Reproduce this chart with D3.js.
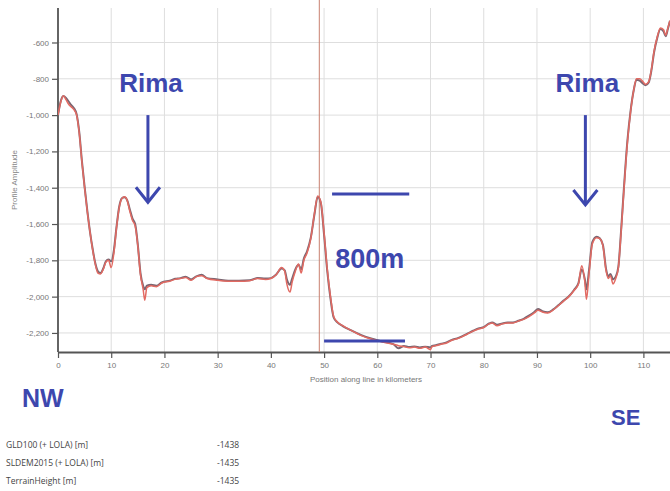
<!DOCTYPE html>
<html>
<head>
<meta charset="utf-8">
<script src="https://cdn.jsdelivr.net/npm/d3@7"></script>
<style>
  body { margin: 0; background: #fff; }
  svg { display: block; }
</style>
</head>
<body>
<div id="viz"></div>
<script>
"use strict";
(function(){
    // profile samples, km along the line
    const km = [0, 0.5, 1.0, 1.5, 2.0, 2.5, 3.0, 3.5, 4.0, 4.5, 5.0, 5.5, 6.0, 6.5, 7.0, 7.5, 8.0, 8.5, 9.0, 9.5,
        10.0, 10.5, 11.0, 11.5, 12.0, 12.5, 13.0, 13.5, 14.0, 14.5, 15.0, 15.5, 16.0, 16.3, 16.7, 17.5, 18.5, 19.5,
        21, 22, 23, 24, 25, 26, 27, 28, 30, 32, 34, 36, 37.5, 39, 40, 41, 42, 42.6, 43, 43.6, 44, 44.6, 45.2, 45.7,
        46.2, 46.8, 47.5, 48.2, 48.8, 49.4, 50.0, 50.6, 51.2, 51.8, 52.5, 53.5, 55, 57, 59, 61, 63, 64, 65, 66, 67,
        68, 69, 70, 70.3, 71, 72, 73, 74, 75, 76, 77, 78, 79, 80, 81, 81.6, 82.5, 83.5, 84.5, 85.5, 86.5, 87.5, 88.5,
        89.5, 90.2, 91, 92, 93, 94, 95, 96, 97, 97.8, 98.4, 99.0, 99.3, 99.8, 100.4, 101.2, 101.8, 102.4, 103.0,
        103.4, 103.8, 104.3, 104.8, 105.3, 105.8, 106.3, 107, 107.6, 108.2, 108.7, 109.3, 109.9, 110.4, 111, 111.5,
        112, 112.6, 113.2, 113.8, 114.2, 114.6, 115]

    // TerrainHeight (red)
    const terrainHeight = [-1000, -930, -893, -915, -940, -955, -970, -1000, -1100, -1260, -1400, -1530, -1640, -1740, -1820, -1870, -1875, -1850, -1810, -1800,
        -1840, -1760, -1620, -1510, -1460, -1450, -1470, -1530, -1580, -1610, -1720, -1880, -1960, -2020, -1950, -1940, -1945, -1925,
        -1915, -1905, -1900, -1895, -1910, -1890, -1885, -1900, -1910, -1915, -1915, -1912, -1900, -1905, -1900, -1880, -1840, -1860, -1930, -1975, -1920, -1860, -1820, -1870,
        -1800, -1760, -1680, -1540, -1445, -1480, -1650, -1850, -2000, -2110, -2140, -2160, -2185, -2215, -2235, -2250, -2262, -2270, -2275, -2282, -2278,
        -2285, -2278, -2292, -2275, -2270, -2262, -2255, -2240, -2232, -2220, -2205, -2190, -2178, -2170, -2150, -2145, -2160, -2150, -2145, -2145, -2135, -2125, -2110,
        -2090, -2075, -2085, -2090, -2075, -2050, -2025, -2000, -1965, -1930, -1830, -1920, -2015, -1870, -1710, -1675, -1680, -1720, -1860,
        -1900, -1885, -1930, -1900, -1840, -1650, -1430, -1150, -980, -860, -800, -800, -815, -830, -815, -750,
        -650, -570, -520, -530, -560, -520, -480]

    // GLD100 / SLDEM2015 (dark)
    const gld100 = [-1000, -925, -895, -905, -925, -945, -962, -995, -1095, -1255, -1395, -1525, -1640, -1735, -1815, -1860, -1870, -1845, -1805, -1795,
        -1805, -1745, -1615, -1505, -1458, -1452, -1468, -1520, -1570, -1600, -1715, -1870, -1940, -1960, -1940, -1935, -1940, -1922,
        -1912, -1902, -1898, -1890, -1905, -1888, -1880, -1898, -1905, -1912, -1912, -1910, -1898, -1900, -1898, -1878, -1845, -1855, -1905, -1935, -1900, -1850, -1825, -1850,
        -1790, -1750, -1675, -1545, -1450, -1485, -1660, -1860, -2010, -2115, -2142, -2162, -2185, -2212, -2232, -2248, -2262, -2285, -2272, -2278, -2275,
        -2280, -2276, -2280, -2272, -2268, -2260, -2252, -2238, -2230, -2218, -2203, -2188, -2175, -2168, -2148, -2142, -2155, -2148, -2143, -2142, -2133, -2122, -2105,
        -2085, -2068, -2080, -2086, -2072, -2048, -2022, -1998, -1962, -1925, -1850, -1905, -1960, -1850, -1700, -1670, -1678, -1715, -1850,
        -1890, -1875, -1905, -1890, -1835, -1640, -1420, -1140, -975, -860, -805, -810, -825, -835, -820, -755,
        -655, -575, -525, -540, -565, -525, -480]

    const xTicks = [0, 10, 20, 30, 40, 50, 60, 70, 80, 90, 100, 110]
    const yTicks = [-600, -800, -1000, -1200, -1400, -1600, -1800, -2000, -2200]

    const legendNames = ["GLD100 (+ LOLA) [m]", "SLDEM2015 (+ LOLA) [m]", "TerrainHeight [m]"]
    const legendValues = ["-1438", "-1435", "-1435"]

    const markerKm = 49.1

    // annotation anchors in data units
    const rimaLabels = [{ km: 11.5, elev: -873 }, { km: 93.5, elev: -873 }]
    const rimaArrows = [{ km: 16.9, top: -1000, tip: -1480 }, { km: 99.1, top: -1000, tip: -1495 }]
    const depthBars = [{ from: 51.5, to: 66.0, elev: -1435 }, { from: 50.0, to: 65.2, elev: -2245 }]
    const depthLabel = { km: 52.1, elev: -1842, text: "800m" }

    const measurements = {
        width: 670,
        height: 491,
        left: 58,
        right: 670,
        top: 8,
        bottom: 352
    }
    const blue = "#3d47ae"

    const svg = d3.select("#viz").append("svg")
        .attr("width", measurements.width)
        .attr("height", measurements.height)

    const scaleX = d3.scaleLinear()
        .domain([0, 115])
        .range([measurements.left, measurements.right])

    const scaleY = d3.scaleLinear()
        .domain([-2305, -410])
        .range([measurements.bottom, measurements.top])

    // grid
    svg.append("g").selectAll("line")
        .data(xTicks)
        .enter().append("line")
        .attr("x1", d => scaleX(d)).attr("x2", d => scaleX(d))
        .attr("y1", measurements.top).attr("y2", measurements.bottom)
        .attr("stroke", "#dedede").attr("stroke-width", 1)

    svg.append("g").selectAll("line")
        .data(yTicks)
        .enter().append("line")
        .attr("x1", measurements.left).attr("x2", measurements.right)
        .attr("y1", d => scaleY(d)).attr("y2", d => scaleY(d))
        .attr("stroke", "#dedede").attr("stroke-width", 1)

    // axes
    const fmtY = d => (d < 0 ? "-" : "") + d3.format(",")(Math.abs(d))

    const xAxis = svg.append("g")
        .attr("transform", "translate(0," + measurements.bottom + ")")
        .call(d3.axisBottom(scaleX).tickValues(xTicks).tickSize(6).tickSizeOuter(0).tickFormat(d => d))

    const yAxis = svg.append("g")
        .attr("transform", "translate(" + measurements.left + ",0)")
        .call(d3.axisLeft(scaleY).tickValues(yTicks).tickSize(6).tickSizeOuter(0).tickFormat(fmtY))

    ;[xAxis, yAxis].forEach(ax => {
        ax.select(".domain").attr("stroke", "#555").attr("stroke-width", 1.8)
        ax.selectAll(".tick line").attr("stroke", "#555").attr("stroke-width", 1.2)
        ax.selectAll(".tick text")
            .attr("fill", "#777")
            .style("font-family", "'Liberation Sans', Arial, sans-serif")
            .style("font-size", "8px")
    })
    xAxis.selectAll(".tick text").attr("dy", "0.9em")

    // the y axis line runs up to the top of the plot
    yAxis.select(".domain").attr("d", "M0," + measurements.top + "V" + measurements.bottom)

    svg.append("text")
        .attr("x", 366)
        .attr("y", 382)
        .attr("text-anchor", "middle")
        .attr("fill", "#777")
        .style("font-family", "'Liberation Sans', Arial, sans-serif")
        .style("font-size", "8px")
        .text("Position along line in kilometers")

    svg.append("text")
        .attr("transform", "translate(17,180) rotate(-90)")
        .attr("text-anchor", "middle")
        .attr("fill", "#888")
        .style("font-family", "'Liberation Sans', Arial, sans-serif")
        .style("font-size", "8px")
        .text("Profile Amplitude")

    // profile lines
    svg.append("clipPath").attr("id", "plotClip")
        .append("rect")
        .attr("x", measurements.left).attr("y", 0)
        .attr("width", measurements.right - measurements.left)
        .attr("height", measurements.bottom)

    const line = d3.line()
        .x(d => scaleX(d[0]))
        .y(d => scaleY(d[1]))
        .curve(d3.curveMonotoneX)

    const plot = svg.append("g").attr("clip-path", "url(#plotClip)")

    // position marker
    plot.append("line")
        .attr("x1", scaleX(markerKm)).attr("x2", scaleX(markerKm))
        .attr("y1", 0).attr("y2", measurements.bottom)
        .attr("stroke", "#c98070").attr("stroke-width", 1)

    plot.append("path")
        .datum(km.map((k, i) => [k, gld100[i]]))
        .attr("d", line)
        .attr("fill", "none")
        .attr("stroke", "#7a6672")
        .attr("stroke-width", 2)

    plot.append("path")
        .datum(km.map((k, i) => [k, terrainHeight[i]]))
        .attr("d", line)
        .attr("fill", "none")
        .attr("stroke", "#e26a62")
        .attr("stroke-width", 1.5)

    // annotations
    const bold = "'Liberation Sans', Arial, Helvetica, sans-serif"

    svg.selectAll(".rima")
        .data(rimaLabels)
        .enter().append("text")
        .attr("x", d => scaleX(d.km))
        .attr("y", d => scaleY(d.elev))
        .attr("fill", blue)
        .style("font-family", bold)
        .style("font-weight", "bold")
        .style("font-size", "26px")
        .text("Rima")

    rimaArrows.forEach(a => {
        const ax = scaleX(a.km)
        const tip = scaleY(a.tip)
        svg.append("line")
            .attr("x1", ax).attr("x2", ax)
            .attr("y1", scaleY(a.top)).attr("y2", tip - 1)
            .attr("stroke", blue).attr("stroke-width", 3)
        svg.append("path")
            .attr("d", "M" + (ax - 12) + "," + (tip - 15) + "L" + ax + "," + tip + "L" + (ax + 12) + "," + (tip - 15))
            .attr("fill", "none")
            .attr("stroke", blue)
            .attr("stroke-width", 3)
    })

    svg.selectAll(".depth")
        .data(depthBars)
        .enter().append("line")
        .attr("x1", d => scaleX(d.from)).attr("x2", d => scaleX(d.to))
        .attr("y1", d => scaleY(d.elev)).attr("y2", d => scaleY(d.elev))
        .attr("stroke", blue).attr("stroke-width", 3)

    svg.append("text")
        .attr("x", scaleX(depthLabel.km))
        .attr("y", scaleY(depthLabel.elev))
        .attr("fill", blue)
        .style("font-family", bold)
        .style("font-weight", "bold")
        .style("font-size", "27px")
        .text(depthLabel.text)

    svg.append("text")
        .attr("x", 22).attr("y", 407)
        .attr("fill", blue)
        .style("font-family", bold)
        .style("font-weight", "bold")
        .style("font-size", "25px")
        .text("NW")

    svg.append("text")
        .attr("x", 611).attr("y", 425)
        .attr("fill", blue)
        .style("font-family", bold)
        .style("font-weight", "bold")
        .style("font-size", "22px")
        .text("SE")

    // readout table
    const rows = svg.append("g").selectAll("g")
        .data(legendNames)
        .enter().append("g")
        .attr("transform", (d, i) => "translate(0," + (448 + i * 18) + ")")

    rows.append("text")
        .attr("x", 6)
        .attr("fill", "#444")
        .style("font-family", "'Open Sans', sans-serif")
        .style("font-size", "8.5px")
        .text(d => d)

    rows.append("text")
        .attr("x", 217)
        .attr("fill", "#444")
        .style("font-family", "'Open Sans', sans-serif")
        .style("font-size", "8.5px")
        .text((d, i) => legendValues[i])
})()
</script>
</body>
</html>
